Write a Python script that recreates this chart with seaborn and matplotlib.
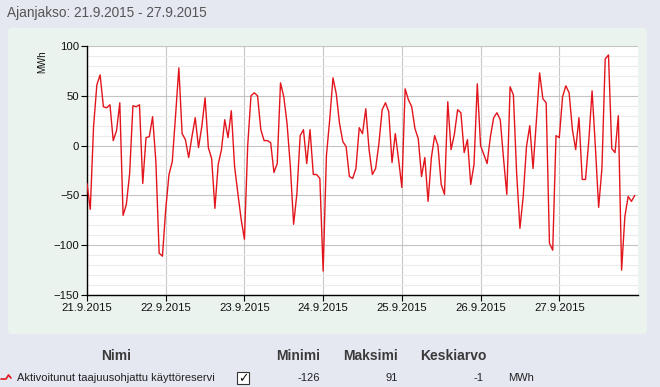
import matplotlib
matplotlib.use("Agg")
import matplotlib.pyplot as plt
import numpy as np
import pandas as pd
import seaborn as sns
from matplotlib.patches import FancyBboxPatch, Rectangle
from matplotlib.lines import Line2D
from matplotlib.ticker import MultipleLocator

# hourly values, 21.9.2015 00:00 - 27.9.2015 23:00 (MWh)
day1 = [-38, -64, 19, 61, 71, 39, 38, 41, 5, 15, 43, -70,
        -59, -28, 40, 39, 41, -38, 8, 9, 29, -16, -108, -111]
day2 = [-64, -29, -16, 30, 78, 12, 6, -12, 9, 28, -2, 19,
        48, -2, -13, -63, -19, -4, 26, 8, 35, -21, -48, -74]
day3 = [-94, 0, 50, 53, 50, 16, 5, 5, 3, -27, -18, 63,
        49, 22, -21, -79, -48, 10, 16, -18, 16, -29, -29, -33]
day4 = [-126, -10, 26, 68, 52, 22, 4, -1, -31, -33, -23, 18,
        12, 37, -4, -29, -23, 2, 36, 43, 34, -17, 12, -14]
day5 = [-42, 57, 46, 39, 17, 7, -31, -12, -56, -12, 10, 0,
        -39, -49, 44, -4, 11, 36, 33, -7, 6, -39, -19, 62]
day6 = [0, -9, -18, 9, 28, 33, 26, -13, -49, 59, 51, -28,
        -83, -51, -1, 20, -23, 24, 73, 47, 43, -98, -105, 10]
day7 = [8, 49, 60, 53, 16, -4, 28, -34, -34, 5, 55, -1,
        -62, -23, 87, 91, -3, -7, 30, -125, -71, -51, -56, -50]

day_labels = ["21.9.2015", "22.9.2015", "23.9.2015", "24.9.2015",
              "25.9.2015", "26.9.2015", "27.9.2015"]
series_name = "Aktivoitunut taajuusohjattu käyttöreservi"
stat_min, stat_max, stat_mean = "-126", "91", "-1"

values = day1 + day2 + day3 + day4 + day5 + day6 + day7
df = pd.DataFrame({"hour": np.arange(len(values)), "MWh": values})

W, H = 660, 387
sns.set_theme(style="white")
plt.rcParams["font.family"] = ["Liberation Sans", "DejaVu Sans"]

fig = plt.figure(figsize=(W / 100, H / 100), dpi=100)
fig.patch.set_facecolor("#e5e7f1")


def fx(x):
    return x / W


def fy(y):
    return 1 - y / H


# light panel behind the chart, also used as a pixel canvas for the texts
bg = fig.add_axes([0, 0, 1, 1], zorder=-5)
bg.set_xlim(0, W)
bg.set_ylim(H, 0)
bg.axis("off")
bg.add_patch(FancyBboxPatch((8, 28), 639, 306,
                            boxstyle="round,pad=0,rounding_size=4",
                            facecolor="#ebf3ef", edgecolor="none"))

ax = fig.add_axes([fx(87), fy(295), fx(638) - fx(87), fy(46) - fy(295)])
ax.set_facecolor("white")

sns.lineplot(data=df, x="hour", y="MWh", ax=ax, color="#e3151c",
             linewidth=1.0, zorder=3)

ax.set_xlim(0, 168)
ax.set_ylim(-150, 100)
ax.set_xticks(np.arange(0, 168, 24))
ax.set_xticklabels(day_labels)
ax.yaxis.set_major_locator(MultipleLocator(50))
ax.yaxis.set_minor_locator(MultipleLocator(10))
ax.grid(axis="x", which="major", color="#c8c8c8", linewidth=0.8)
ax.grid(axis="y", which="major", color="#c4c4c4", linewidth=0.8)
ax.grid(axis="y", which="minor", color="#ececec", linewidth=0.8)
ax.set_axisbelow(True)

for side in ["top", "right"]:
    ax.spines[side].set_visible(False)
for side in ["left", "bottom"]:
    ax.spines[side].set_color("black")
    ax.spines[side].set_linewidth(1.0)

ax.tick_params(axis="both", which="major", direction="out", length=4,
               width=0.8, color="black", labelsize=8.2, labelcolor="#111111",
               pad=1.5, left=True, bottom=True)
ax.tick_params(axis="y", which="minor", left=False)
ax.set_xlabel("")
ax.set_ylabel("")

bg.text(42, 62, "MWh", rotation=90, ha="center", va="center",
        fontsize=7, color="#111111")

# header
bg.text(7, 13, "Ajanjakso: 21.9.2015 - 27.9.2015", ha="left",
        va="center", fontsize=9.8, color="#555555")

# legend table
for label, xc in [("Nimi", 116), ("Minimi", 298), ("Maksimi", 371),
                  ("Keskiarvo", 453)]:
    bg.text(xc, 356, label, ha="center", va="center", fontsize=10,
            fontweight="bold", color="#3a3a3a")

ry = 378
bg.add_line(Line2D([1, 6, 8.5, 11], [379, 379, 375, 378],
                   color="#e3151c", linewidth=1.2))
bg.text(17, ry, series_name, ha="left", va="center", fontsize=8,
        color="#222222")
bg.add_patch(Rectangle((237, 372), 12, 12, facecolor="white",
                       edgecolor="#333333", linewidth=0.8))
bg.text(243, 378.5, "✓", ha="center", va="center", fontsize=9,
        fontweight="bold", color="#111111", family=["DejaVu Sans"])
for val, xr in [(stat_min, 320), (stat_max, 398), (stat_mean, 484)]:
    bg.text(xr, ry, val, ha="right", va="center", fontsize=8,
            color="#222222")
bg.text(508, ry, "MWh", ha="left", va="center", fontsize=8,
        color="#222222")

fig.savefig("out.png", dpi=100, facecolor=fig.get_facecolor())
